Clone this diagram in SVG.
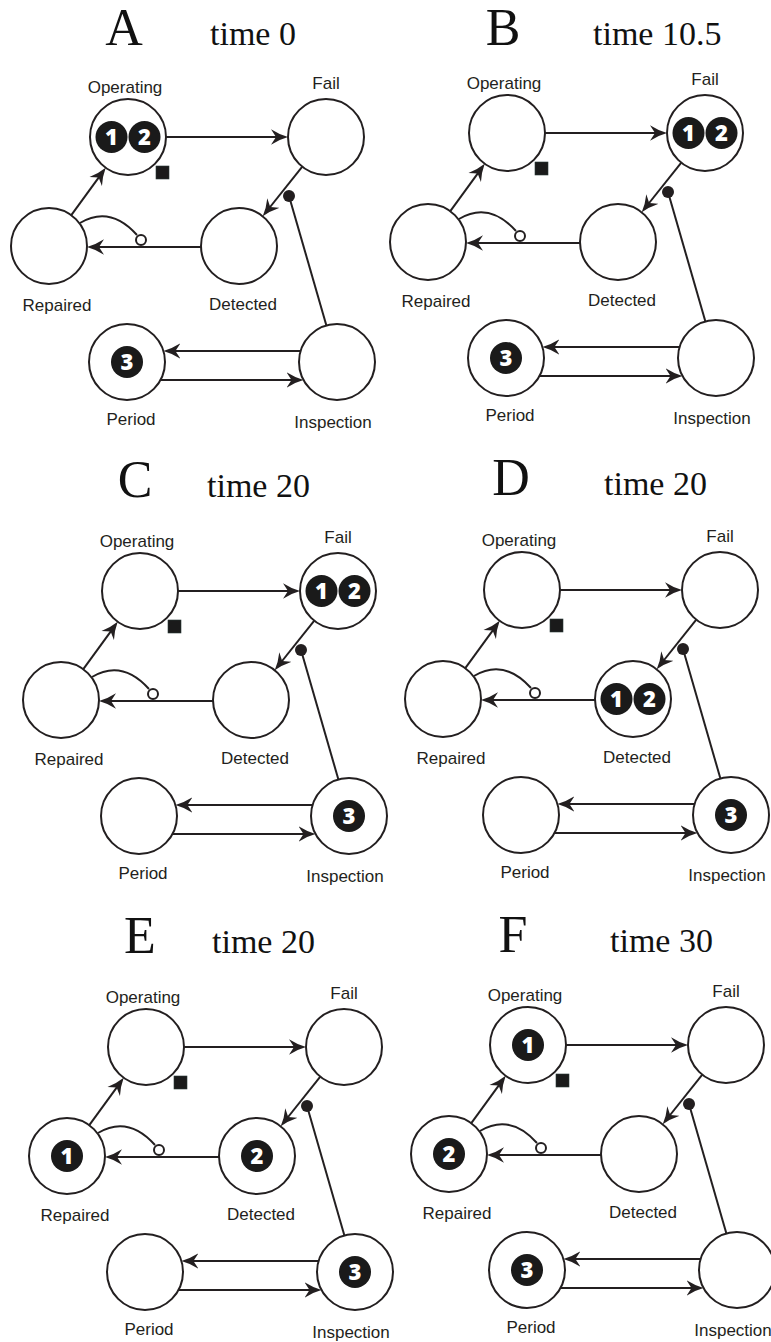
<svg xmlns="http://www.w3.org/2000/svg" width="771" height="1342" viewBox="0 0 771 1342">
<style>
.place{fill:#fff;stroke:#231f20;stroke-width:2}
.lbl{font-family:"Liberation Sans",Arial,sans-serif;font-size:17px;fill:#231f20;text-anchor:middle}
.conn line,.conn path{stroke:#231f20;stroke-width:2;fill:none}
.arr{marker-end:url(#arrow)}
.dot{fill:#231f20}
.hollow{fill:#fff;stroke:#231f20;stroke-width:2}
.sq{fill:#1a1a1a;stroke:#2a3a38;stroke-width:0.6}
.tok circle{fill:#1a1a1a}
.tok text{font-family:"Open Sans","Noto Sans",sans-serif;font-weight:800;font-size:22px;fill:#fff;text-anchor:middle}
.ttl{font-family:"Liberation Serif","Times New Roman",serif;fill:#111}
.big{font-size:52px;text-anchor:middle}
.time{font-size:34px}
</style>
<defs>
<marker id="arrow" viewBox="0 0 17 16" refX="9" refY="8" markerWidth="17" markerHeight="16" markerUnits="userSpaceOnUse" orient="auto">
<path d="M17,8 Q8,5.5 0,0.3 L5,8 L0,15.7 Q8,10.5 17,8 Z" fill="#231f20"/>
</marker>
</defs>
<rect width="771" height="1342" fill="#fff"/>

<g id="titles" class="ttl">
<text class="big" x="124" y="45">A</text><text class="time" x="210" y="45">time 0</text>
<text class="big" x="503" y="45">B</text><text class="time" x="593" y="45">time 10.5</text>
<text class="big" x="135" y="497">C</text><text class="time" x="207" y="497">time 20</text>
<text class="big" x="511" y="495">D</text><text class="time" x="604" y="495">time 20</text>
<text class="big" x="140" y="953">E</text><text class="time" x="212" y="953">time 20</text>
<text class="big" x="513" y="952">F</text><text class="time" x="610" y="952">time 30</text>
</g>

<!-- Panel A -->
<g id="panel-A" transform="translate(0,0)">
<g id="A-connectors" class="conn">
<line class="arr" x1="166" y1="137" x2="280" y2="137"/>
<line class="arr" x1="302.3" y1="166.7" x2="267.7" y2="210"/>
<line class="arr" x1="201" y1="247" x2="95" y2="247"/>
<line class="arr" x1="71.3" y1="215.2" x2="101" y2="174.3"/>
<line class="arr" x1="300.6" y1="351" x2="171.4" y2="351"/>
<line class="arr" x1="160.5" y1="380" x2="295.5" y2="380"/>
<line x1="326.4" y1="325.5" x2="289" y2="196"/>
<circle class="dot" cx="289" cy="196" r="6"/>
<path d="M80,223 Q110,205 137,235"/>
<circle class="hollow" cx="141" cy="240" r="5"/>
</g>
<g id="A-operating"><circle class="place" cx="128" cy="137" r="38"/><text class="lbl" x="125" y="93">Operating</text>
<g class="tok"><circle cx="111.5" cy="137" r="16"/><text x="111.5" y="145">1</text></g>
<g class="tok"><circle cx="144.5" cy="137" r="16"/><text x="144.5" y="145">2</text></g></g>
<g id="A-transition"><rect class="sq" x="156" y="166" width="13" height="13"/></g>
<g id="A-fail"><circle class="place" cx="326" cy="137" r="38"/><text class="lbl" x="326" y="89">Fail</text></g>
<g id="A-repaired"><circle class="place" cx="49" cy="246" r="38"/><text class="lbl" x="57" y="311">Repaired</text></g>
<g id="A-detected"><circle class="place" cx="239" cy="246" r="38"/><text class="lbl" x="243" y="310">Detected</text></g>
<g id="A-period"><circle class="place" cx="127" cy="362" r="38"/><text class="lbl" x="131" y="425">Period</text>
<g class="tok"><circle cx="127" cy="362" r="16"/><text x="127" y="370">3</text></g></g>
<g id="A-inspection"><circle class="place" cx="337" cy="362" r="38"/><text class="lbl" x="333" y="428">Inspection</text></g>
</g>

<!-- Panel B -->
<g id="panel-B" transform="translate(379,-4)">
<g id="B-connectors" class="conn">
<line class="arr" x1="166" y1="137" x2="280" y2="137"/>
<line class="arr" x1="302.3" y1="166.7" x2="267.7" y2="210"/>
<line class="arr" x1="201" y1="247" x2="95" y2="247"/>
<line class="arr" x1="71.3" y1="215.2" x2="101" y2="174.3"/>
<line class="arr" x1="300.6" y1="351" x2="171.4" y2="351"/>
<line class="arr" x1="160.5" y1="380" x2="295.5" y2="380"/>
<line x1="326.4" y1="325.5" x2="289" y2="196"/>
<circle class="dot" cx="289" cy="196" r="6"/>
<path d="M80,223 Q110,205 137,235"/>
<circle class="hollow" cx="141" cy="240" r="5"/>
</g>
<g id="B-operating"><circle class="place" cx="128" cy="137" r="38"/><text class="lbl" x="125" y="93">Operating</text></g>
<g id="B-transition"><rect class="sq" x="156" y="166" width="13" height="13"/></g>
<g id="B-fail"><circle class="place" cx="326" cy="137" r="38"/><text class="lbl" x="326" y="89">Fail</text>
<g class="tok"><circle cx="309.5" cy="137" r="16"/><text x="309.5" y="145">1</text></g>
<g class="tok"><circle cx="342.5" cy="137" r="16"/><text x="342.5" y="145">2</text></g></g>
<g id="B-repaired"><circle class="place" cx="49" cy="246" r="38"/><text class="lbl" x="57" y="311">Repaired</text></g>
<g id="B-detected"><circle class="place" cx="239" cy="246" r="38"/><text class="lbl" x="243" y="310">Detected</text></g>
<g id="B-period"><circle class="place" cx="127" cy="362" r="38"/><text class="lbl" x="131" y="425">Period</text>
<g class="tok"><circle cx="127" cy="362" r="16"/><text x="127" y="370">3</text></g></g>
<g id="B-inspection"><circle class="place" cx="337" cy="362" r="38"/><text class="lbl" x="333" y="428">Inspection</text></g>
</g>

<!-- Panel C -->
<g id="panel-C" transform="translate(12,454)">
<g id="C-connectors" class="conn">
<line class="arr" x1="166" y1="137" x2="280" y2="137"/>
<line class="arr" x1="302.3" y1="166.7" x2="267.7" y2="210"/>
<line class="arr" x1="201" y1="247" x2="95" y2="247"/>
<line class="arr" x1="71.3" y1="215.2" x2="101" y2="174.3"/>
<line class="arr" x1="300.6" y1="351" x2="171.4" y2="351"/>
<line class="arr" x1="160.5" y1="380" x2="295.5" y2="380"/>
<line x1="326.4" y1="325.5" x2="289" y2="196"/>
<circle class="dot" cx="289" cy="196" r="6"/>
<path d="M80,223 Q110,205 137,235"/>
<circle class="hollow" cx="141" cy="240" r="5"/>
</g>
<g id="C-operating"><circle class="place" cx="128" cy="137" r="38"/><text class="lbl" x="125" y="93">Operating</text></g>
<g id="C-transition"><rect class="sq" x="156" y="166" width="13" height="13"/></g>
<g id="C-fail"><circle class="place" cx="326" cy="137" r="38"/><text class="lbl" x="326" y="89">Fail</text>
<g class="tok"><circle cx="309.5" cy="137" r="16"/><text x="309.5" y="145">1</text></g>
<g class="tok"><circle cx="342.5" cy="137" r="16"/><text x="342.5" y="145">2</text></g></g>
<g id="C-repaired"><circle class="place" cx="49" cy="246" r="38"/><text class="lbl" x="57" y="311">Repaired</text></g>
<g id="C-detected"><circle class="place" cx="239" cy="246" r="38"/><text class="lbl" x="243" y="310">Detected</text></g>
<g id="C-period"><circle class="place" cx="127" cy="362" r="38"/><text class="lbl" x="131" y="425">Period</text></g>
<g id="C-inspection"><circle class="place" cx="337" cy="362" r="38"/><text class="lbl" x="333" y="428">Inspection</text>
<g class="tok"><circle cx="337" cy="362" r="16"/><text x="337" y="370">3</text></g></g>
</g>

<!-- Panel D -->
<g id="panel-D" transform="translate(394,453)">
<g id="D-connectors" class="conn">
<line class="arr" x1="166" y1="137" x2="280" y2="137"/>
<line class="arr" x1="302.3" y1="166.7" x2="267.7" y2="210"/>
<line class="arr" x1="201" y1="247" x2="95" y2="247"/>
<line class="arr" x1="71.3" y1="215.2" x2="101" y2="174.3"/>
<line class="arr" x1="300.6" y1="351" x2="171.4" y2="351"/>
<line class="arr" x1="160.5" y1="380" x2="295.5" y2="380"/>
<line x1="326.4" y1="325.5" x2="289" y2="196"/>
<circle class="dot" cx="289" cy="196" r="6"/>
<path d="M80,223 Q110,205 137,235"/>
<circle class="hollow" cx="141" cy="240" r="5"/>
</g>
<g id="D-operating"><circle class="place" cx="128" cy="137" r="38"/><text class="lbl" x="125" y="93">Operating</text></g>
<g id="D-transition"><rect class="sq" x="156" y="166" width="13" height="13"/></g>
<g id="D-fail"><circle class="place" cx="326" cy="137" r="38"/><text class="lbl" x="326" y="89">Fail</text></g>
<g id="D-repaired"><circle class="place" cx="49" cy="246" r="38"/><text class="lbl" x="57" y="311">Repaired</text></g>
<g id="D-detected"><circle class="place" cx="239" cy="246" r="38"/><text class="lbl" x="243" y="310">Detected</text>
<g class="tok"><circle cx="222.5" cy="246" r="16"/><text x="222.5" y="254">1</text></g>
<g class="tok"><circle cx="255.5" cy="246" r="16"/><text x="255.5" y="254">2</text></g></g>
<g id="D-period"><circle class="place" cx="127" cy="362" r="38"/><text class="lbl" x="131" y="425">Period</text></g>
<g id="D-inspection"><circle class="place" cx="337" cy="362" r="38"/><text class="lbl" x="333" y="428">Inspection</text>
<g class="tok"><circle cx="337" cy="362" r="16"/><text x="337" y="370">3</text></g></g>
</g>

<!-- Panel E -->
<g id="panel-E" transform="translate(18,910)">
<g id="E-connectors" class="conn">
<line class="arr" x1="166" y1="137" x2="280" y2="137"/>
<line class="arr" x1="302.3" y1="166.7" x2="267.7" y2="210"/>
<line class="arr" x1="201" y1="247" x2="95" y2="247"/>
<line class="arr" x1="71.3" y1="215.2" x2="101" y2="174.3"/>
<line class="arr" x1="300.6" y1="351" x2="171.4" y2="351"/>
<line class="arr" x1="160.5" y1="380" x2="295.5" y2="380"/>
<line x1="326.4" y1="325.5" x2="289" y2="196"/>
<circle class="dot" cx="289" cy="196" r="6"/>
<path d="M80,223 Q110,205 137,235"/>
<circle class="hollow" cx="141" cy="240" r="5"/>
</g>
<g id="E-operating"><circle class="place" cx="128" cy="137" r="38"/><text class="lbl" x="125" y="93">Operating</text></g>
<g id="E-transition"><rect class="sq" x="156" y="166" width="13" height="13"/></g>
<g id="E-fail"><circle class="place" cx="326" cy="137" r="38"/><text class="lbl" x="326" y="89">Fail</text></g>
<g id="E-repaired"><circle class="place" cx="49" cy="246" r="38"/><text class="lbl" x="57" y="311">Repaired</text>
<g class="tok"><circle cx="49" cy="246" r="16"/><text x="49" y="254">1</text></g></g>
<g id="E-detected"><circle class="place" cx="239" cy="246" r="38"/><text class="lbl" x="243" y="310">Detected</text>
<g class="tok"><circle cx="239" cy="246" r="16"/><text x="239" y="254">2</text></g></g>
<g id="E-period"><circle class="place" cx="127" cy="362" r="38"/><text class="lbl" x="131" y="425">Period</text></g>
<g id="E-inspection"><circle class="place" cx="337" cy="362" r="38"/><text class="lbl" x="333" y="428">Inspection</text>
<g class="tok"><circle cx="337" cy="362" r="16"/><text x="337" y="370">3</text></g></g>
</g>

<!-- Panel F -->
<g id="panel-F" transform="translate(400,908)">
<g id="F-connectors" class="conn">
<line class="arr" x1="166" y1="137" x2="280" y2="137"/>
<line class="arr" x1="302.3" y1="166.7" x2="267.7" y2="210"/>
<line class="arr" x1="201" y1="247" x2="95" y2="247"/>
<line class="arr" x1="71.3" y1="215.2" x2="101" y2="174.3"/>
<line class="arr" x1="300.6" y1="351" x2="171.4" y2="351"/>
<line class="arr" x1="160.5" y1="380" x2="295.5" y2="380"/>
<line x1="326.4" y1="325.5" x2="289" y2="196"/>
<circle class="dot" cx="289" cy="196" r="6"/>
<path d="M80,223 Q110,205 137,235"/>
<circle class="hollow" cx="141" cy="240" r="5"/>
</g>
<g id="F-operating"><circle class="place" cx="128" cy="137" r="38"/><text class="lbl" x="125" y="93">Operating</text>
<g class="tok"><circle cx="128" cy="137" r="16"/><text x="128" y="145">1</text></g></g>
<g id="F-transition"><rect class="sq" x="156" y="166" width="13" height="13"/></g>
<g id="F-fail"><circle class="place" cx="326" cy="137" r="38"/><text class="lbl" x="326" y="89">Fail</text></g>
<g id="F-repaired"><circle class="place" cx="49" cy="246" r="38"/><text class="lbl" x="57" y="311">Repaired</text>
<g class="tok"><circle cx="49" cy="246" r="16"/><text x="49" y="254">2</text></g></g>
<g id="F-detected"><circle class="place" cx="239" cy="246" r="38"/><text class="lbl" x="243" y="310">Detected</text></g>
<g id="F-period"><circle class="place" cx="127" cy="362" r="38"/><text class="lbl" x="131" y="425">Period</text>
<g class="tok"><circle cx="127" cy="362" r="16"/><text x="127" y="370">3</text></g></g>
<g id="F-inspection"><circle class="place" cx="337" cy="362" r="38"/><text class="lbl" x="333" y="428">Inspection</text></g>
</g>
</svg>
